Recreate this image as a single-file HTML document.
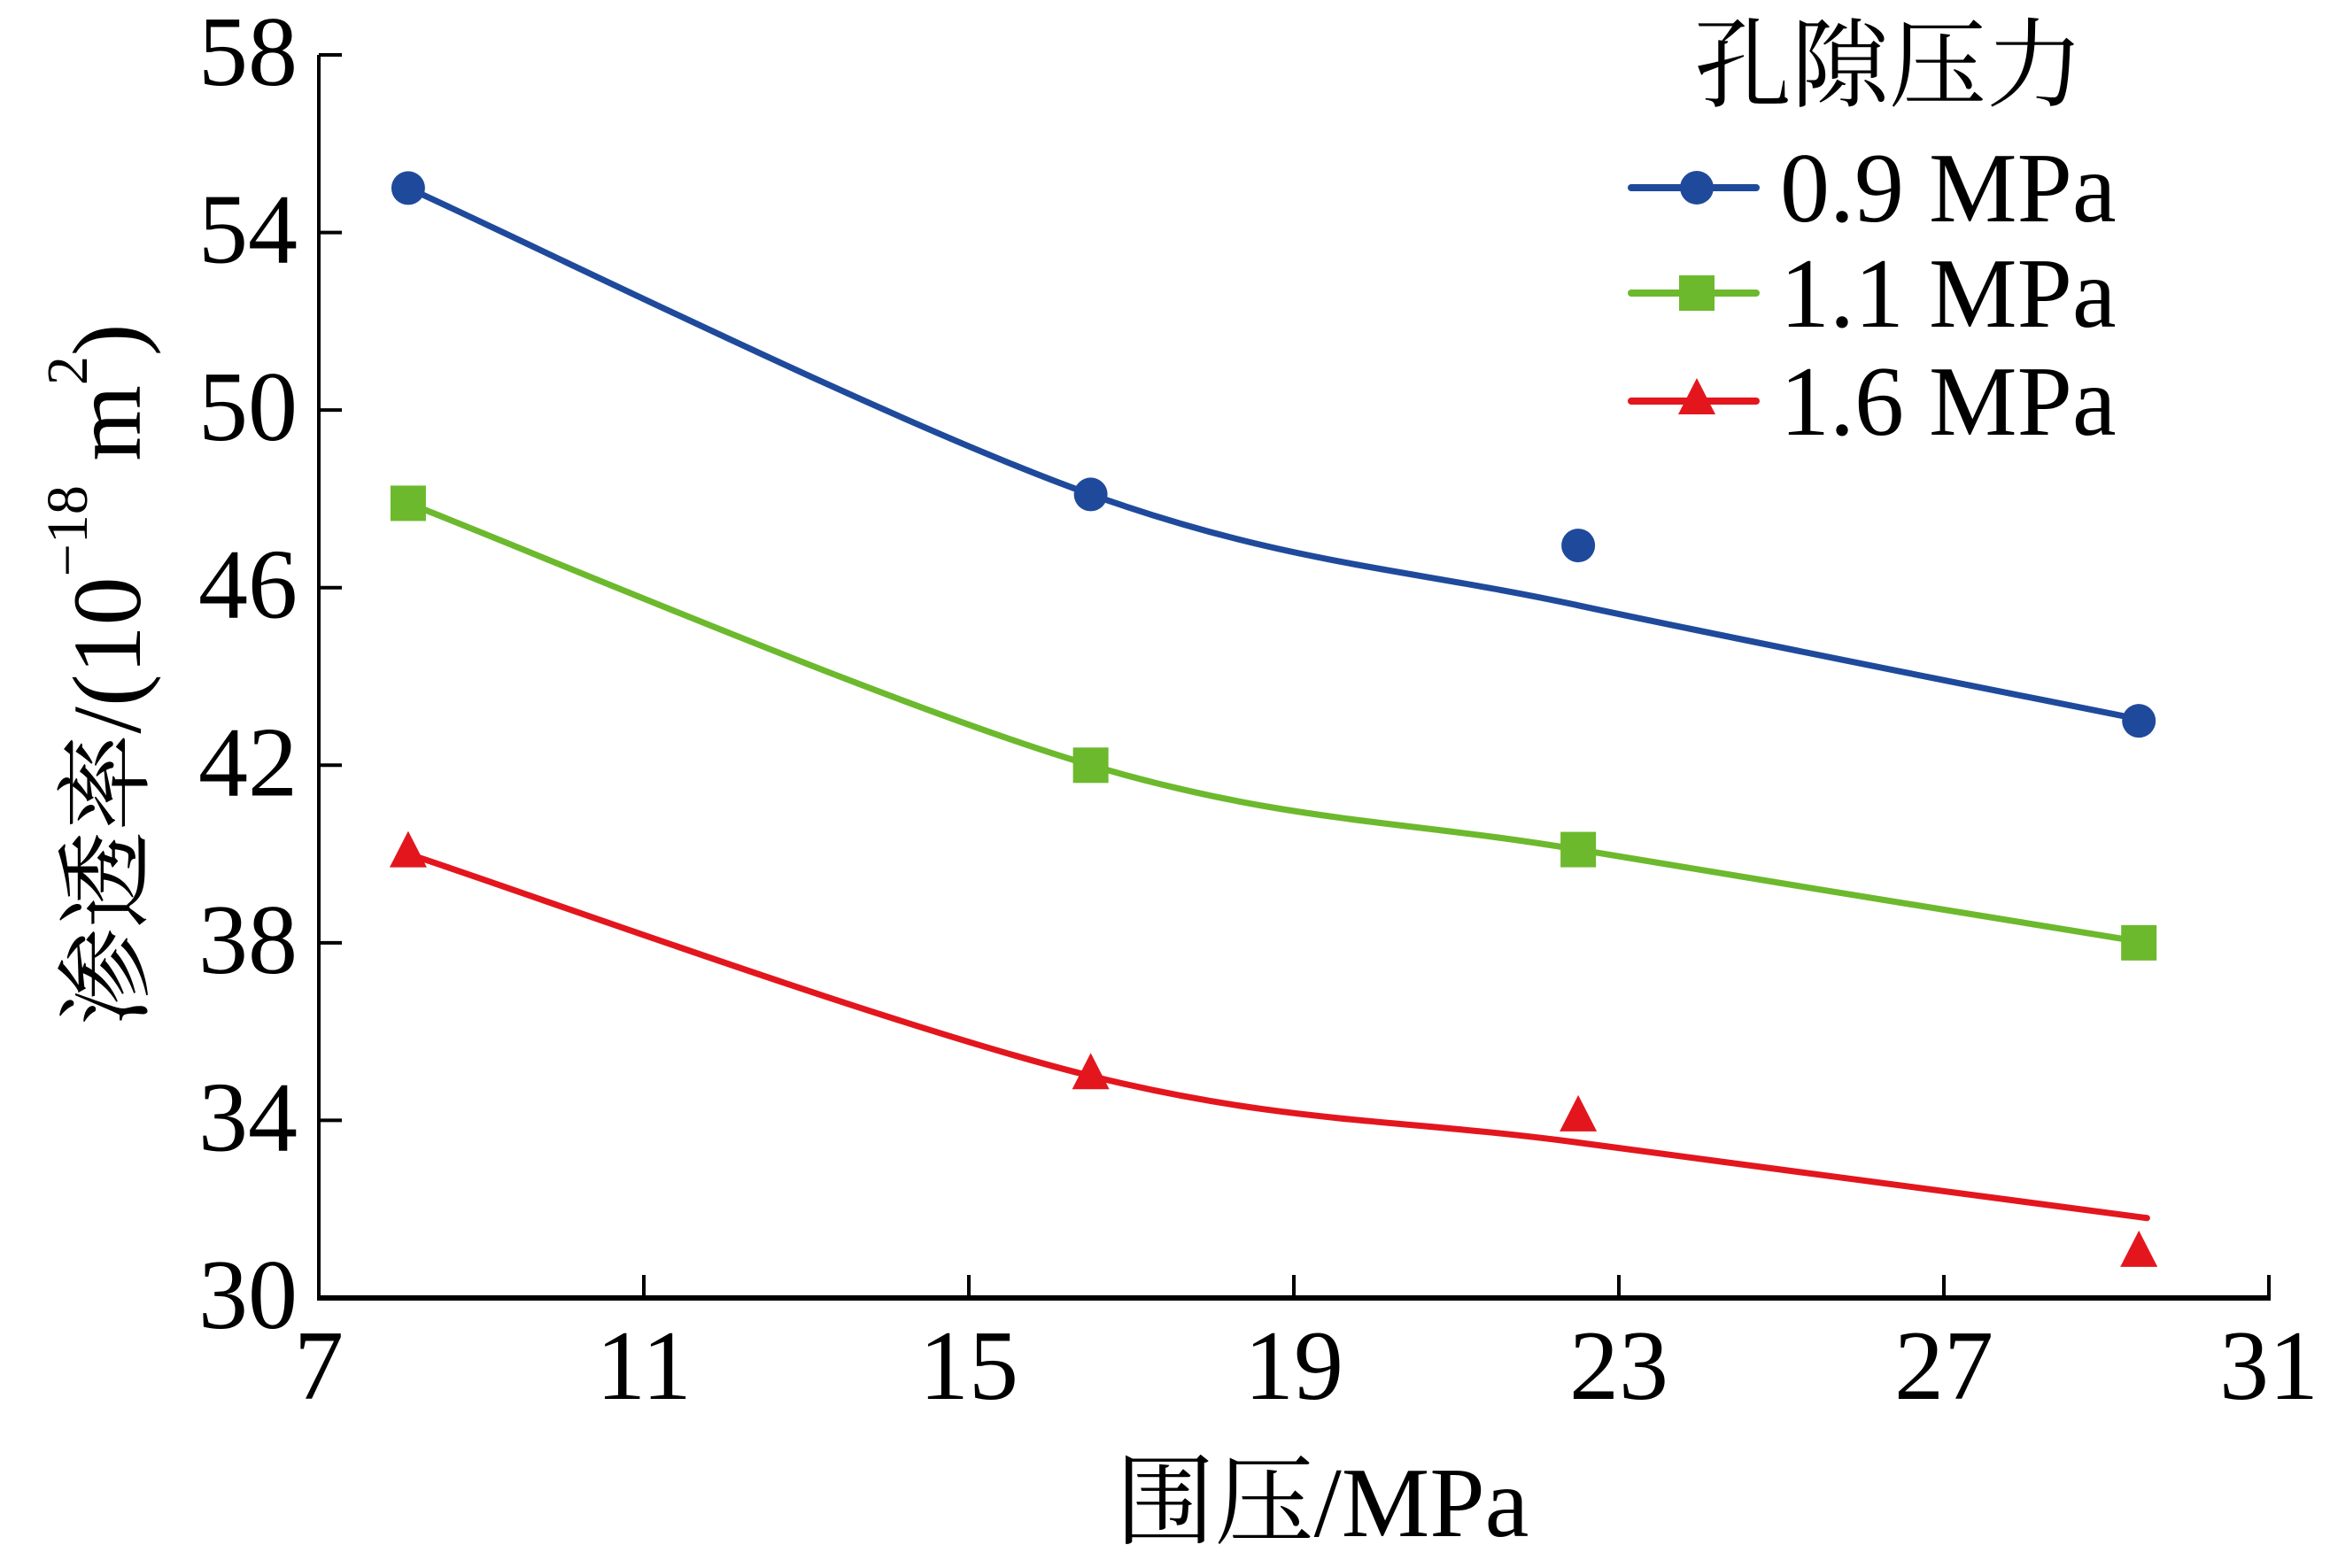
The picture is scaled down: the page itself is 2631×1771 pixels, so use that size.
<!DOCTYPE html>
<html><head><meta charset="utf-8"><style>
html,body{margin:0;padding:0;background:#fff;}
svg{display:block;}
text{font-family:"Liberation Serif","Times New Roman","Tinos","Noto Serif CJK SC",serif;fill:#000;}
</style></head><body>
<svg id="chart" width="2631" height="1771" viewBox="0 0 2631 1771" xmlns="http://www.w3.org/2000/svg">
<g id="plot"></g>
<text x="1493" y="1735" font-size="112" text-anchor="middle">围压/MPa</text>
<g transform="translate(158,762) rotate(-90)">
<text x="0" y="0" font-size="110" text-anchor="middle">渗透率/(10<tspan font-size="66" dy="-60">−18</tspan><tspan dy="60"> m</tspan><tspan font-size="66" dy="-60">2</tspan><tspan dy="60">)</tspan></text>
</g>
<text x="2133" y="112" font-size="110" text-anchor="middle">孔隙压力</text>
<g id="legend"></g>
</svg>
<script>
const xTicks=[7,11,15,19,23,27,31];
const yTicks=[30,34,38,42,46,50,54,58];
const confining=[8.1,16.5,22.5,29.4];
const seriesNames=["0.9 MPa","1.1 MPa","1.6 MPa"];
const blueVals=[55.0,48.1,46.95,43.0];
const greenVals=[47.9,42.0,40.1,38.0];
const redVals=[40.0,35.0,34.05,31.0];
const fitX=[8.1,16.5,22.5,29.5];
const blueFit=[55.0,48.1,45.6,43.0];
const greenFit=[47.9,42.0,40.1,38.0];
const redFit=[40.0,35.0,33.5,31.8];

const X0=360,X1=2562,Y0=1466,Y1=62;
const sx=v=>X0+(v-7)/(31-7)*(X1-X0);
const sy=v=>Y0-(v-30)/(58-30)*(Y0-Y1);
const NS="http://www.w3.org/2000/svg";
const plot=document.getElementById('plot');
function mk(tag,attrs,parent){const e=document.createElementNS(NS,tag);for(const k in attrs)e.setAttribute(k,attrs[k]);(parent||plot).appendChild(e);return e;}

let ax=mk('line',{x1:X0,y1:Y1,x2:X0,y2:Y0,stroke:'#000','stroke-width':4});


ax=mk('line',{x1:X0-2,y1:Y0,x2:X1+2,y2:Y0,stroke:'#000','stroke-width':6});


xTicks.forEach(t=>{
  const l=mk('line',{x1:sx(t),y1:Y0,x2:sx(t),y2:Y0-26,stroke:'#000','stroke-width':4});
  
  
  const tx=mk('text',{x:sx(t),y:1580,'font-size':112,'text-anchor':'middle'});
  tx.textContent=t;
  
  
});
yTicks.forEach(t=>{
  const l=mk('line',{x1:X0,y1:sy(t),x2:X0+26,y2:sy(t),stroke:'#000','stroke-width':4});
  
  
  const tx=mk('text',{x:336,y:sy(t)+34,'font-size':112,'text-anchor':'end'});
  tx.textContent=t;
  
  
});

function curve(xs,ys){
  const p=xs.map((x,i)=>[sx(x),sy(ys[i])]);
  let d='M'+p[0][0]+','+p[0][1];
  for(let i=0;i<p.length-1;i++){
    const a=p[Math.max(0,i-1)],b=p[i],c=p[i+1],e=p[Math.min(p.length-1,i+2)];
    const c1=[b[0]+(c[0]-a[0])/6,b[1]+(c[1]-a[1])/6];
    const c2=[c[0]-(e[0]-b[0])/6,c[1]-(e[1]-b[1])/6];
    d+=' C'+c1+' '+c2+' '+c;
  }
  return d;
}
function marker(type,x,y,col,parent){
  let m;
  if(type==='circle')m=mk('circle',{cx:x,cy:y,r:19,fill:col},parent);
  else if(type==='square')m=mk('rect',{x:x-20,y:y-20,width:40,height:40,fill:col},parent);
  else m=mk('polygon',{points:(x)+','+(y-26)+' '+(x-21)+','+(y+15)+' '+(x+21)+','+(y+15),fill:col},parent);
  return m;
}
const series=[
 {vals:blueVals,fit:blueFit,col:'#1f4a9c',type:'circle',name:'blue'},
 {vals:greenVals,fit:greenFit,col:'#6cb92d',type:'square',name:'green'},
 {vals:redVals,fit:redFit,col:'#e3161e',type:'triangle',name:'red'}
];
series.forEach(s=>{
  const p=mk('path',{d:curve(fitX,s.fit),fill:'none',stroke:s.col,'stroke-width':7,'stroke-linecap':'round'});
  
  
  s.vals.forEach((v,i)=>{
    const m=marker(s.type,sx(confining[i]),sy(v),s.col);
    
    
  });
});
const lg=document.getElementById('legend');
const rowY=[212,331,453];
series.forEach((s,i)=>{
  const l=mk('line',{x1:1842,y1:rowY[i],x2:1983,y2:rowY[i],stroke:s.col,'stroke-width':8,'stroke-linecap':'round'},lg);
  
  
  const m=marker(s.type,1916,rowY[i],s.col,lg);
  
  
  const t=mk('text',{x:2010,y:rowY[i]+38,'font-size':112},lg);
  t.textContent=seriesNames[i];
  
  
});
</script>
</body></html>
